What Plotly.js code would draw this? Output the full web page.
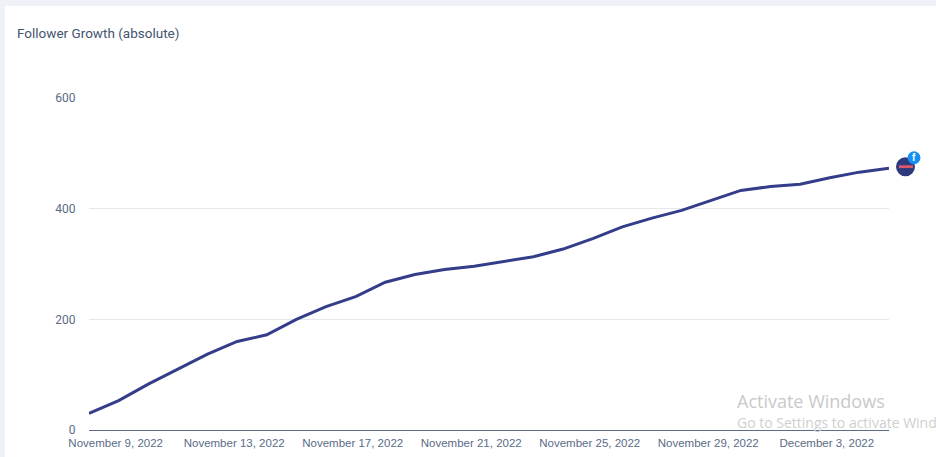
<!DOCTYPE html>
<html><head><meta charset="utf-8">
<script src="https://cdn.plot.ly/plotly-3.0.1.min.js"></script>
<style>
html,body{margin:0;padding:0;background:#eef2f6;overflow:hidden;width:936px;height:457px}
#c{position:absolute;left:5px;top:6px;width:931px;height:451px;background:#fff}
</style></head><body><div id="c"></div>
<script>
const dates=["2022-11-08","2022-11-09","2022-11-10","2022-11-11","2022-11-12","2022-11-13","2022-11-14","2022-11-15","2022-11-16","2022-11-17","2022-11-18","2022-11-19","2022-11-20","2022-11-21","2022-11-22","2022-11-23","2022-11-24","2022-11-25","2022-11-26","2022-11-27","2022-11-28","2022-11-29","2022-11-30","2022-12-01","2022-12-02","2022-12-03","2022-12-04","2022-12-05"];
const followers=[30,53,83,110,137,160,172,200,223,241,267,281,290,296,304,313,327,346,367,383,397,415,433,440,444,456,466,473];
const tickDates=["2022-11-08T21:36","2022-11-12T21:36","2022-11-16T21:36","2022-11-20T21:36","2022-11-24T21:36","2022-11-28T21:36","2022-12-02T21:36"];
const tickLabels=["November 9, 2022","November 13, 2022","November 17, 2022","November 21, 2022","November 25, 2022","November 29, 2022","December 3, 2022"];
const lastX=dates[dates.length-1], lastY=followers[followers.length-1];
const yMax=600;
function pin(type,x0,y0,x1,y1,color){return {type,xref:'paper',yref:'paper',xsizemode:'pixel',ysizemode:'pixel',xanchor:1,yanchor:lastY/yMax,x0,x1,y0,y1,fillcolor:color,line:{width:0},layer:'above'};}
const layout={
 width:931,height:451,paper_bgcolor:'#fff',plot_bgcolor:'#fff',showlegend:false,
 margin:{l:84,r:47,t:92,b:27},
 title:{text:'Follower Growth (absolute)',font:{family:'Roboto',size:13.5,color:'#44546f'},x:12/931,xanchor:'left',y:1-27/451,yanchor:'middle'},
 xaxis:{type:'date',range:[dates[0],lastX],tickmode:'array',tickvals:tickDates,ticktext:tickLabels,tickangle:0,ticklabelstandoff:4,
  showgrid:false,zeroline:false,showline:false,ticks:'',tickfont:{family:'Liberation Sans',size:11.5,color:'#5a6b86'}},
 yaxis:{range:[0,yMax],tickvals:[0,200,400,600],showgrid:true,gridcolor:'#e3e7ee',gridwidth:1,zeroline:true,zerolinecolor:'#5a6b86',zerolinewidth:1,
  ticks:'outside',ticklen:10,tickcolor:'rgba(0,0,0,0)',tickfont:{family:'Roboto',size:12,color:'#5a6b86'}},
 shapes:[
  pin('circle',7,-8,26,11,'#2f3a7e'),
  pin('rect',10,0.2,24,3,'#d9596b'),
  pin('circle',18.5,4,31.5,17,'#1490f5')
 ],
 annotations:[
  {xref:'paper',yref:'paper',x:1,y:lastY/yMax,text:'<b>f</b>',showarrow:true,arrowcolor:'rgba(0,0,0,0)',arrowwidth:0.1,ax:25,ay:-10.5,font:{family:'Liberation Sans',size:10,color:'#fff'}},
  {xref:'paper',yref:'paper',x:(735-89)/800,y:1-(401-98)/331.5,text:'Activate Windows',showarrow:false,xanchor:'left',yanchor:'middle',font:{family:'Open Sans',size:18,color:'#c9c9c9'}},
  {xref:'paper',yref:'paper',x:(735-89)/800,y:1-(422-98)/331.5,text:'Go to Settings to activate Windows.',showarrow:false,xanchor:'left',yanchor:'middle',font:{family:'Open Sans',size:14,color:'#cfcfcf'}}
 ]
};
Plotly.newPlot('c',[{type:'scatter',mode:'lines',x:dates,y:followers,line:{color:'#343d8a',width:3},hoverinfo:'x+y'}],layout,{displayModeBar:false,staticPlot:true});
</script></body></html>
